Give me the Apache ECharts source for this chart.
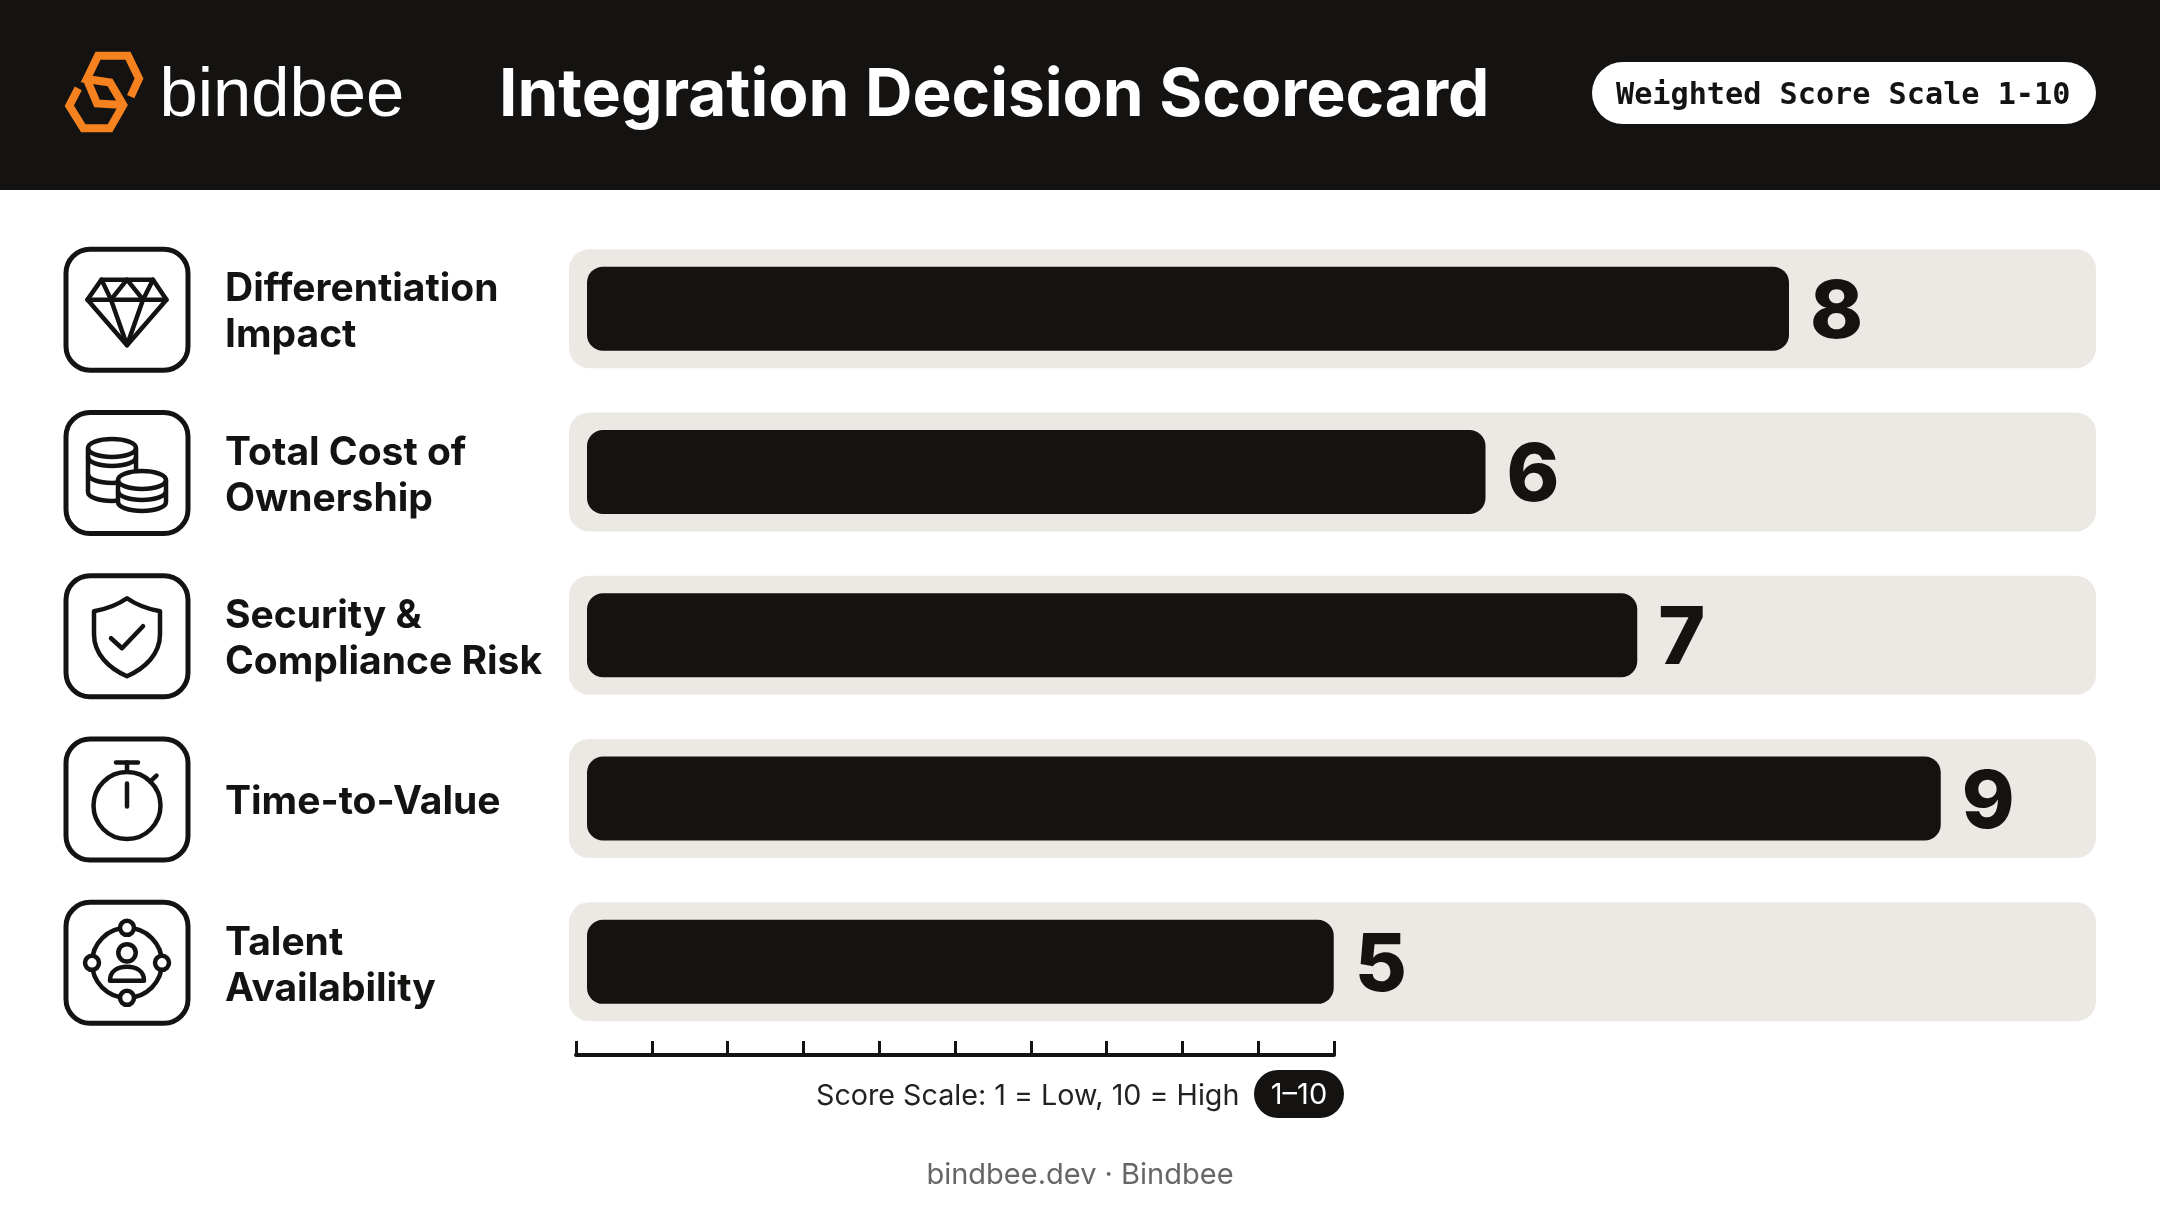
<!DOCTYPE html>
<html>
<head>
<meta charset="utf-8">
<style>html,body{margin:0;padding:0;background:#fff}#c{width:2160px;height:1206px}</style>
<script src="https://cdn.jsdelivr.net/npm/echarts@6/dist/echarts.min.js"></script>
</head>
<body>
<div id="c"></div>
<script>
const categories = ['Differentiation\nImpact','Total Cost of\nOwnership','Security &\nCompliance Risk','Time-to-Value','Talent\nAvailability'];
const scores = [8,6,7,9,5];
const trackValues = [10,10,10,10,10];
const titleText = 'Integration Decision Scorecard';
const badgeText = 'Weighted Score Scale 1-10';
const scaleText = 'Score Scale: 1 = Low, 10 = High';
const scaleBadge = '1–10';
const footerText = 'bindbee.dev · Bindbee';

const INK = '#141312', TRACK = '#ECE9E5', ORANGE = '#F5821F';
const line = {stroke:INK, lineWidth:4.5, fill:null, lineJoin:'round', lineCap:'round'};
const lineW = {stroke:INK, lineWidth:4.5, fill:'#fff', lineJoin:'round', lineCap:'round'};
const p = (d,s)=>({type:'path',shape:{pathData:d},style:s||line});
const c = (cx,cy,r,s)=>({type:'circle',shape:{cx,cy,r},style:s||line});
const icons = [
  [p('M-25.5,-30 L26,-30 L39.5,-10 L0,35.5 L-39.5,-10 Z'),p('M-39.5,-10 L39.5,-10'),
   p('M-25.5,-30 L-16,-10 L0,-30 L16,-10 L26,-30'),p('M-16,-10 L0,35.5 L16,-10')],
  [p('M-39,-25 A24,9 0 0 1 9,-25 A24,9 0 0 1 -39,-25 Z'),
   p('M-39,-25 L-39,19 A24,9 0 0 0 9,19 L9,-25'),
   p('M-39,-16 A24,9 0 0 0 9,-16'),p('M-39,1 A24,9 0 0 0 9,1'),
   p('M-9,7 A24,9 0 0 1 39,7 L39,29 A24,9 0 0 1 -9,29 Z',lineW),
   p('M-9,7 A24,9 0 0 0 39,7'),p('M-9,18 A24,9 0 0 0 39,18')],
  [p('M0,-38 C-10,-31 -22,-27 -33,-25 L-33,-2 C-33,18 -18,32 0,40 C18,32 33,18 33,-2 L33,-25 C22,-27 10,-31 0,-38 Z'),
   p('M-16,2 L-5,12 L16,-10')],
  [c(0,6,33.5),p('M-11,-37 L11,-37'),p('M0,-37 L0,-28'),p('M0,-16 L0,7'),p('M23,-18 L29.5,-24')],
  [c(0,0,35),c(0,-35,7,lineW),c(0,35,7,lineW),c(-35,0,7,lineW),c(35,0,7,lineW),
   c(0,-10,8.7),p('M-17,18 L17,18 C17,8 9,4 0,4 C-9,4 -17,8 -17,18 Z')]
];
const logoStyle = {stroke:ORANGE,lineWidth:8,fill:null,lineJoin:'miter',lineCap:'butt'};
const txt = (text,x,y,font,fill,align)=>({type:'text',x,y,style:{text,font,fill,align:align||'left',verticalAlign:'middle'}});

const chart = echarts.init(document.getElementById('c'),null,{renderer:'canvas'});
chart.setOption({
  animation:false,
  backgroundColor:'#ffffff',
  title:{text:titleText,left:499,top:60,z:10,padding:0,textStyle:{color:'#fff',fontFamily:'Inter',fontWeight:700,fontSize:65.7,lineHeight:72}},
  graphic:[
    {type:'rect',shape:{x:0,y:0,width:2160,height:190},style:{fill:INK},z:-1},
    txt('bindbee',159.5,97,'400 68.8px "Liberation Sans"','#fff'),
    {type:'rect',shape:{x:1592,y:62,width:504,height:62,r:31},style:{fill:'#fff'}},
    txt(badgeText,1616,96,'700 30.2px "DejaVu Sans Mono"',INK),
    txt(scaleText,816,1096,'400 28.7px Inter','#222'),
    {type:'rect',shape:{x:1254,y:1070,width:90,height:48,r:24},style:{fill:INK}},
    txt(scaleBadge,1299,1095,'400 29px Inter','#fff','center'),
    txt(footerText,1080,1175,'400 29px Inter','#666','center')
  ],
  grid:[
    {left:569,width:1527,top:227,height:816.5},
    {left:587,width:1505.5,top:227,height:816.5},
    {left:576,width:758,top:1000,height:55},
    {left:587,width:1505.5,top:231,height:816.5}
  ],
  xAxis:[
    {gridIndex:0,type:'value',min:0,max:10,show:false},
    {gridIndex:1,type:'value',min:12/151.75,max:10,show:false},
    {gridIndex:2,type:'value',min:0,max:5,interval:0.5,position:'bottom',
      axisLine:{show:true,onZero:false,lineStyle:{color:INK,width:4}},
      axisTick:{show:true,inside:true,length:14,lineStyle:{color:INK,width:3}},
      axisLabel:{show:false},splitLine:{show:false}},
    {gridIndex:3,type:'value',min:0,max:10,show:false}
  ],
  yAxis:[
    {gridIndex:0,type:'category',inverse:true,data:categories,show:false},
    {gridIndex:1,type:'category',inverse:true,data:categories,show:false},
    {gridIndex:2,type:'value',min:0,max:1,show:false},
    {gridIndex:3,type:'category',inverse:true,data:categories,
      axisLine:{show:false},axisTick:{show:false},
      axisLabel:{show:true,margin:362,align:'left',interval:0,color:INK,fontFamily:'Inter',fontWeight:700,fontSize:39,lineHeight:46}}
  ],
  series:[
    {name:'Scale maximum',type:'bar',xAxisIndex:0,yAxisIndex:0,data:trackValues,barWidth:119,z:1,silent:true,
      itemStyle:{color:TRACK,borderRadius:20}},
    {name:'Score',type:'bar',xAxisIndex:1,yAxisIndex:1,data:scores,barWidth:84,z:2,
      itemStyle:{color:INK,borderRadius:16},
      label:{show:true,position:'right',distance:21,offset:[0,5],color:INK,fontFamily:'Inter',fontWeight:800,fontSize:80}},
    {name:'Icons',type:'custom',xAxisIndex:1,yAxisIndex:1,silent:true,z:3,clip:false,
      data:categories.map((_,i)=>[1,i]),
      renderItem:(params,api)=>{
        const i=params.dataIndex, y=api.coord([1,i])[1]+1;
        return {type:'group',x:127,y:y,children:[
          {type:'rect',shape:{x:-61,y:-60.5,width:122,height:121,r:24},style:{stroke:INK,lineWidth:5,fill:'#fff'}}
        ].concat(icons[i])};
      }},
    {name:'Logo',type:'custom',coordinateSystem:'none',silent:true,z:5,data:[0],
      renderItem:()=>({type:'group',children:[
        {type:'path',shape:{pathData:'M130.7,96.7 L139,78.5 L128,55.7 L98,55.7 L86.7,79 L110,82.5 L123.3,105 L110,128.3 L83.3,128.3 L69.3,105.7 L78.3,88.3'},style:logoStyle},
        {type:'path',shape:{pathData:'M86.7,79 L97,103.5 L123.3,105'},style:logoStyle}
      ]})}
  ]
});
</script>
</body>
</html>
